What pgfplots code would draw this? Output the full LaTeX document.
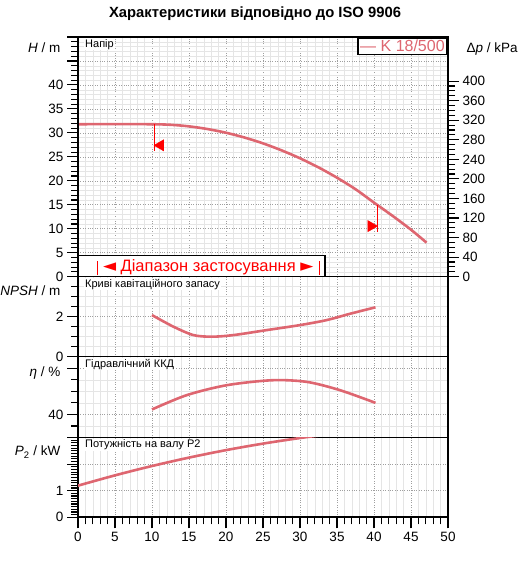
\documentclass[border=0pt]{standalone}
\usepackage{fontspec}
\setmainfont{Liberation Sans}
\newfontfamily\symfont{DejaVu Sans}
\usepackage{pgfplots}
\pgfplotsset{compat=1.18}
\definecolor{curve}{RGB}{222,102,112}
\tikzset{plabel/.style={anchor=north west, fill=white, inner sep=1pt, font=\fontsize{11}{12}\selectfont}}
\begin{document}
\begin{tikzpicture}[x=1pt,y=1pt]
\useasboundingbox (0,0) rectangle (527,561);
\pgfplotsset{
  panel/.style={
    scale only axis, width=370pt, xmin=0, xmax=50,
    anchor=south west,
    axis line style={line width=1.6pt},
    xtick={0,5,...,50}, minor x tick num=4,
    grid=both,
    major grid style={gray!75, dotted, line width=0.6pt},
    minor grid style={gray!20, line width=0.4pt},
    tick align=outside,
    major tick length=11pt, minor tick length=7pt,
    every tick/.style={black, line width=1.1pt},
    ticklabel style={font=\fontsize{13.5}{15}\selectfont},
    /pgf/number format/assume math mode=true,
    ytick pos=left, xtick pos=bottom,
  },
  upper/.style={xticklabels={}, major x tick style={draw=none}, minor x tick style={draw=none}},
  curveline/.style={curve, line width=2.6pt, smooth},
}
% title
\node[anchor=base, font=\bfseries\fontsize{14.8}{16}\selectfont] at (255,543) {Характеристики відповідно до ISO 9906};
% H panel
\begin{axis}[panel, upper, at={(78pt,284.3pt)}, height=239.7pt,
  ymin=0, ymax=50, ytick={0,5,...,50}, yticklabels={0,5,10,15,20,25,30,35,40,,}, minor y tick num=4]
  \addplot[curveline] coordinates {(0,31.8)(5,31.83)(10,31.8)(12.5,31.69)(15,31.36)(17.5,30.8)(20,30.03)(22.5,29.03)(25,27.81)(27.5,26.36)(30,24.7)(32.5,22.8)(35,20.65)(37.5,18.25)(40,15.45)(42.5,12.7)(45,9.8)(47.1,7.1)};
  \addplot[red, line width=1pt] coordinates {(10.3,31.8)(10.3,26.3)};
  \addplot[red, only marks, mark=triangle*, mark size=6.5pt, mark options={rotate=90}] coordinates {(11.15,27.4)};
  \addplot[red, line width=1pt] coordinates {(40.5,14.9)(40.5,9.4)};
  \addplot[red, only marks, mark=triangle*, mark size=6.5pt, mark options={rotate=-90}] coordinates {(39.6,10.55)};
  \draw[fill=white, line width=1.6pt] (axis cs:0,0) rectangle (axis cs:33.4,4.4);
  \addplot[red, line width=1.2pt] coordinates {(2.65,0.3)(2.65,3.3)};
  \addplot[red, line width=1.2pt] coordinates {(32.6,0.3)(32.6,3.3)};
  \node[text=red, font=\fontsize{16.5}{18}\selectfont] at (axis cs:17.6,2.0) {{\symfont\fontsize{17}{18}\selectfont◄} Діапазон застосування {\symfont\fontsize{17}{18}\selectfont►}};
  \node[plabel] at ([xshift=6pt,yshift=-1pt]rel axis cs:0,1) {Напір};
  \node[draw, line width=1.6pt, fill=white, anchor=north east, inner sep=2.5pt, text=curve, font=\fontsize{16}{18}\selectfont] at (rel axis cs:1,1) {— K 18/500};
\end{axis}
\begin{axis}[scale only axis, width=370pt, height=239.7pt, at={(78pt,284.3pt)}, anchor=south west,
  xmin=0, xmax=50, ymin=0, ymax=490.33, hide x axis,
  axis line style={line width=1.6pt}, ytick pos=right,
  ytick={0,40,...,400}, minor y tick num=3, tick align=outside,
  major tick length=11pt, minor tick length=7pt,
  every tick/.style={black, line width=1.1pt},
  ticklabel style={font=\fontsize{13.5}{15}\selectfont},
  /pgf/number format/assume math mode=true]
\end{axis}
% NPSH panel
\begin{axis}[panel, upper, at={(78pt,204.3pt)}, height=80pt,
  ymin=0, ymax=4, ytick={0,2,4}, yticklabels={0,2,}, minor y tick num=3]
  \addplot[curveline] coordinates {(10,2.08)(12.9,1.5)(15.6,1.08)(18.1,1.0)(21,1.08)(25.5,1.33)(30,1.58)(33.6,1.83)(36.8,2.15)(40.2,2.47)};
  \node[plabel] at ([xshift=6pt,yshift=-1pt]rel axis cs:0,1) {Криві кавітаційного запасу};
\end{axis}
% eta panel
\begin{axis}[panel, upper, at={(78pt,123.5pt)}, height=80.8pt,
  ymin=20, ymax=90, ytick={0,40,80}, yticklabels={,40,}, minor y tick num=3]
  \addplot[curveline] coordinates {(10,44.3)(14.7,56.7)(20.1,65.3)(26.2,69.6)(30.9,68.2)(35.4,61)(40.2,50)};
  \node[plabel] at ([xshift=6pt,yshift=-1pt]rel axis cs:0,1) {Гідравлічний ККД};
\end{axis}
% P2 panel
\begin{axis}[panel, at={(78pt,43.7pt)}, height=79.8pt,
  ymin=0, ymax=3, ytick={0,1,2,3}, yticklabels={0,1,,}, minor y tick num=9, yminorgrids=false]
  \addplot[curveline] coordinates {(0,1.19)(5,1.577)(10,1.928)(15,2.244)(20,2.525)(25,2.77)(30,2.98)(35,3.155)(40,3.295)};
  \node[plabel] at ([xshift=6pt,yshift=-1pt]rel axis cs:0,1) {Потужність на валу P2};
\end{axis}
% axis labels
\begin{scope}[font=\fontsize{13.5}{15}\selectfont]
\node[anchor=base east] at (64,508) {\textit{H} / m};
\node[anchor=base east] at (64,265) {\textit{NPSH} / m};
\node[anchor=base east] at (64,184) {\textit{η} / \%};
\node[anchor=base east] at (64,105) {\textit{P}\textsubscript{2} / kW};
\node[anchor=base west] at (463,508) {Δ\textit{p} / kPa};
\end{scope}
\end{tikzpicture}
\end{document}
